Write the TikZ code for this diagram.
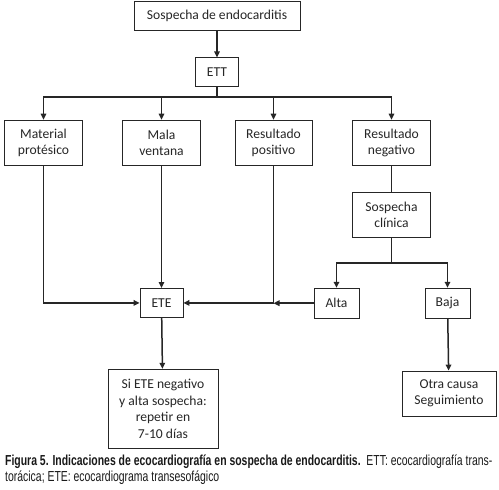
\documentclass[tikz,border=0pt]{standalone}
\usepackage{fontspec}
\setmainfont{Carlito}
\newfontfamily\capfont[FakeStretch=0.72]{Liberation Sans}
\usepackage{tikz}
\usetikzlibrary{arrows.meta, positioning}

\begin{document}
\begin{tikzpicture}[
    every node/.style={font=\fontsize{13.6}{16.5}\selectfont},
    box/.style={rectangle, draw=black!85, line width=0.8pt, align=center,
                inner sep=2pt, text=black!85},
    arrow/.style={-{Triangle[length=6pt, width=5.5pt]}, line width=1.5pt, draw=black!85},
    link/.style={line width=1pt, draw=black!85},
    caption/.style={font=\capfont\fontsize{14.5}{16}\selectfont, align=left,
                    inner sep=0pt, anchor=north west, text=black!90},
]
\useasboundingbox (0,0) rectangle (499pt,-490pt);

% Top: suspicion and ETT
\node[box, minimum width=166pt, minimum height=29pt] (sosp) at (217pt,-15.5pt) {Sospecha de endocarditis};
\node[box, minimum width=43pt, minimum height=29pt, below=27pt of sosp] (ett) {ETT};

% Row 2: ETT findings
\node[box, minimum width=78pt, minimum height=45.5pt, below=32.5pt of ett, xshift=-173.5pt] (matprot) {Material\\protésico};
\node[box, minimum width=78pt, minimum height=45.5pt, below=32.5pt of ett, xshift=-55.5pt] (malav) {Mala\\ventana};
\node[box, minimum width=77pt, minimum height=45.5pt, below=32.5pt of ett, xshift=56.5pt] (respos) {Resultado\\positivo};
\node[box, minimum width=78pt, minimum height=45.5pt, below=32.5pt of ett, xshift=174.5pt] (resneg) {Resultado\\negativo};

% Right branch: clinical suspicion
\node[box, minimum width=78pt, minimum height=45pt, below=26pt of resneg] (clinica) {Sospecha\\clínica};
\node[box, minimum width=45pt, minimum height=30pt, below=50pt of clinica, xshift=-55pt] (alta) {Alta};
\node[box, minimum width=45pt, minimum height=30pt, below=50pt of clinica, xshift=56pt] (baja) {Baja};

% ETE and outcomes
\node[box, minimum width=43pt, minimum height=29pt, below=122pt of malav] (ete) {ETE};
\node[box, minimum width=110pt, minimum height=79pt, below=51pt of ete, xshift=1.5pt] (sirep) {Si ETE negativo\\y alta sospecha:\\repetir en\\7-10 días};
\node[box, minimum width=94pt, minimum height=45pt, below=52pt of baja, xshift=1.5pt] (otra) {Otra causa\\Seguimiento};

% Caption
\node[caption] (pie) at (5pt,-455pt) {{\bfseries Figura 5. Indicaciones de ecocardiografía en sospecha de endocarditis.}\ \ ETT: ecocardiografía trans-\\torácica; ETE: ecocardiograma transesofágico};

% Arrows
\draw[arrow] (sosp) -- (ett);
\draw[arrow] (ett.south) -- ++(0,-10pt) -| (matprot);
\draw[arrow] (ett.south) -- ++(0,-10pt) -| (malav);
\draw[arrow] (ett.south) -- ++(0,-10pt) -| (respos);
\draw[arrow] (ett.south) -- ++(0,-10pt) -| (resneg);
\draw[arrow] (matprot) |- (ete);
\draw[arrow] (malav) -- (ete);
\draw[arrow] (respos) |- (ete);
\draw[arrow] (alta.west) -- (alta.west -| respos);
\draw[link] (resneg) -- (clinica);
\draw[link] (clinica.south) -- ++(0,-25pt);
\draw[arrow] (clinica.south) ++(0,-25pt) -| (alta);
\draw[arrow] (clinica.south) ++(0,-25pt) -| (baja);
\draw[arrow] (ete) -- (sirep);
\draw[arrow] (baja) -- (otra);

\end{tikzpicture}
\end{document}
